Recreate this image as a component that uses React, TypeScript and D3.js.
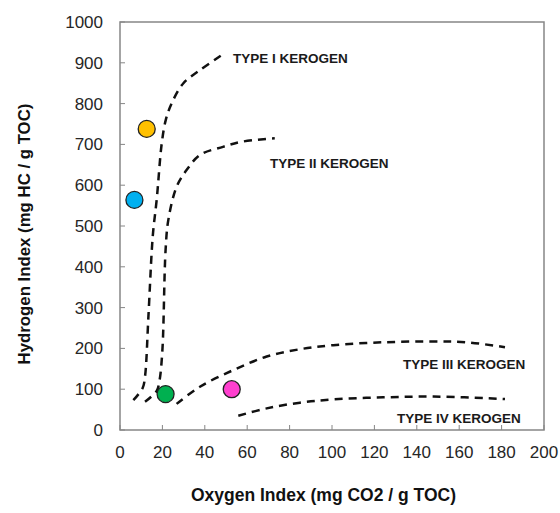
import React from "react";
import * as d3 from "d3";

const xTicks = [0, 20, 40, 60, 80, 100, 120, 140, 160, 180, 200];
const yTicks = [0, 100, 200, 300, 400, 500, 600, 700, 800, 900, 1000];

const typeI: [number, number][] = [
  [6.3, 73], [10.7, 103], [11.8, 131], [13.4, 278], [15, 441], [15.7, 490],
  [17.3, 564], [19.7, 703], [21.6, 760], [24.4, 801], [29.9, 850], [37.7, 882], [48, 919],
];
const typeII: [number, number][] = [
  [11.8, 69], [17.3, 96], [18.6, 120], [20, 196], [21.5, 441], [22.8, 515],
  [26.7, 596], [31.4, 637], [37.7, 674], [48.6, 694], [58, 707], [73, 715],
];
const typeIII: [number, number][] = [
  [26.7, 64], [37.7, 106], [53.5, 147], [69.2, 180], [84.9, 198], [100.6, 208],
  [124.2, 215], [147.8, 217], [163.5, 215], [181.6, 203],
];
const typeIV: [number, number][] = [
  [55.8, 35], [69.2, 53], [84.9, 67], [100.6, 75], [124.2, 80], [147.8, 82], [181.6, 76],
];
const curves = [typeI, typeII, typeIII, typeIV];

const curveLabels = ["TYPE I KEROGEN", "TYPE II KEROGEN", "TYPE III KEROGEN", "TYPE IV KEROGEN"];
const labelPos: [number, number][] = [
  [53.3, 912], [70.8, 654], [133.5, 162], [130.7, 29],
];

const samples = [
  { x: 12.6, y: 738, color: "#FFC000" },
  { x: 6.8, y: 564, color: "#00B0F0" },
  { x: 21.5, y: 88, color: "#00B050" },
  { x: 52.7, y: 100, color: "#FF3FCF" },
];

export default function App() {
  const W = 560, H = 513;
  const left = 120, right = 544, top = 22, bottom = 430;
  const x = d3.scaleLinear().domain([0, 200]).range([left, right]);
  const y = d3.scaleLinear().domain([0, 1000]).range([bottom, top]);
  const line = d3
    .line<[number, number]>()
    .x((d) => x(d[0]))
    .y((d) => y(d[1]))
    .curve(d3.curveCatmullRom.alpha(0.5));
  const font = "'Liberation Sans', Arial, sans-serif";
  return (
    <svg width={W} height={H} style={{ position: "absolute", left: 0, top: 0, background: "#fff" }} fontFamily={font}>
      <rect x={left} y={top} width={right - left} height={bottom - top} fill="none" stroke="#868686" strokeWidth={1.5} />
      {yTicks.map((t) => (
        <g key={"y" + t}>
          <line x1={left} x2={left + 5} y1={y(t)} y2={y(t)} stroke="#868686" strokeWidth={1} />
          <text x={103} y={y(t)} dy="0.35em" textAnchor="end" fontSize={17} fill="#262626">{t}</text>
        </g>
      ))}
      {xTicks.map((t) => (
        <g key={"x" + t}>
          <line x1={x(t)} x2={x(t)} y1={bottom} y2={bottom - 5} stroke="#868686" strokeWidth={1} />
          <text x={x(t)} y={452} dy="0.35em" textAnchor="middle" fontSize={17} fill="#262626">{t}</text>
        </g>
      ))}
      {curves.map((c, i) => (
        <path key={"c" + i} d={line(c) || ""} fill="none" stroke="#111" strokeWidth={2.5} strokeDasharray="8,6" />
      ))}
      {curveLabels.map((l, i) => (
        <text key={"l" + i} x={x(labelPos[i][0])} y={y(labelPos[i][1])} dy="0.35em" fontSize={13.5} fontWeight="bold" fill="#1a1a1a">{l}</text>
      ))}
      {samples.map((s, i) => (
        <circle key={"s" + i} cx={x(s.x)} cy={y(s.y)} r={8.5} fill={s.color} stroke="#222" strokeWidth={1.3} />
      ))}
      <text x={323.5} y={495} dy="0.35em" textAnchor="middle" fontSize={17.5} fontWeight="bold" fill="#111">Oxygen Index (mg CO2 / g TOC)</text>
      <text transform={`translate(24,234) rotate(-90)`} dy="0.35em" textAnchor="middle" fontSize={16.8} fontWeight="bold" fill="#111">Hydrogen Index (mg HC / g TOC)</text>
    </svg>
  );
}
